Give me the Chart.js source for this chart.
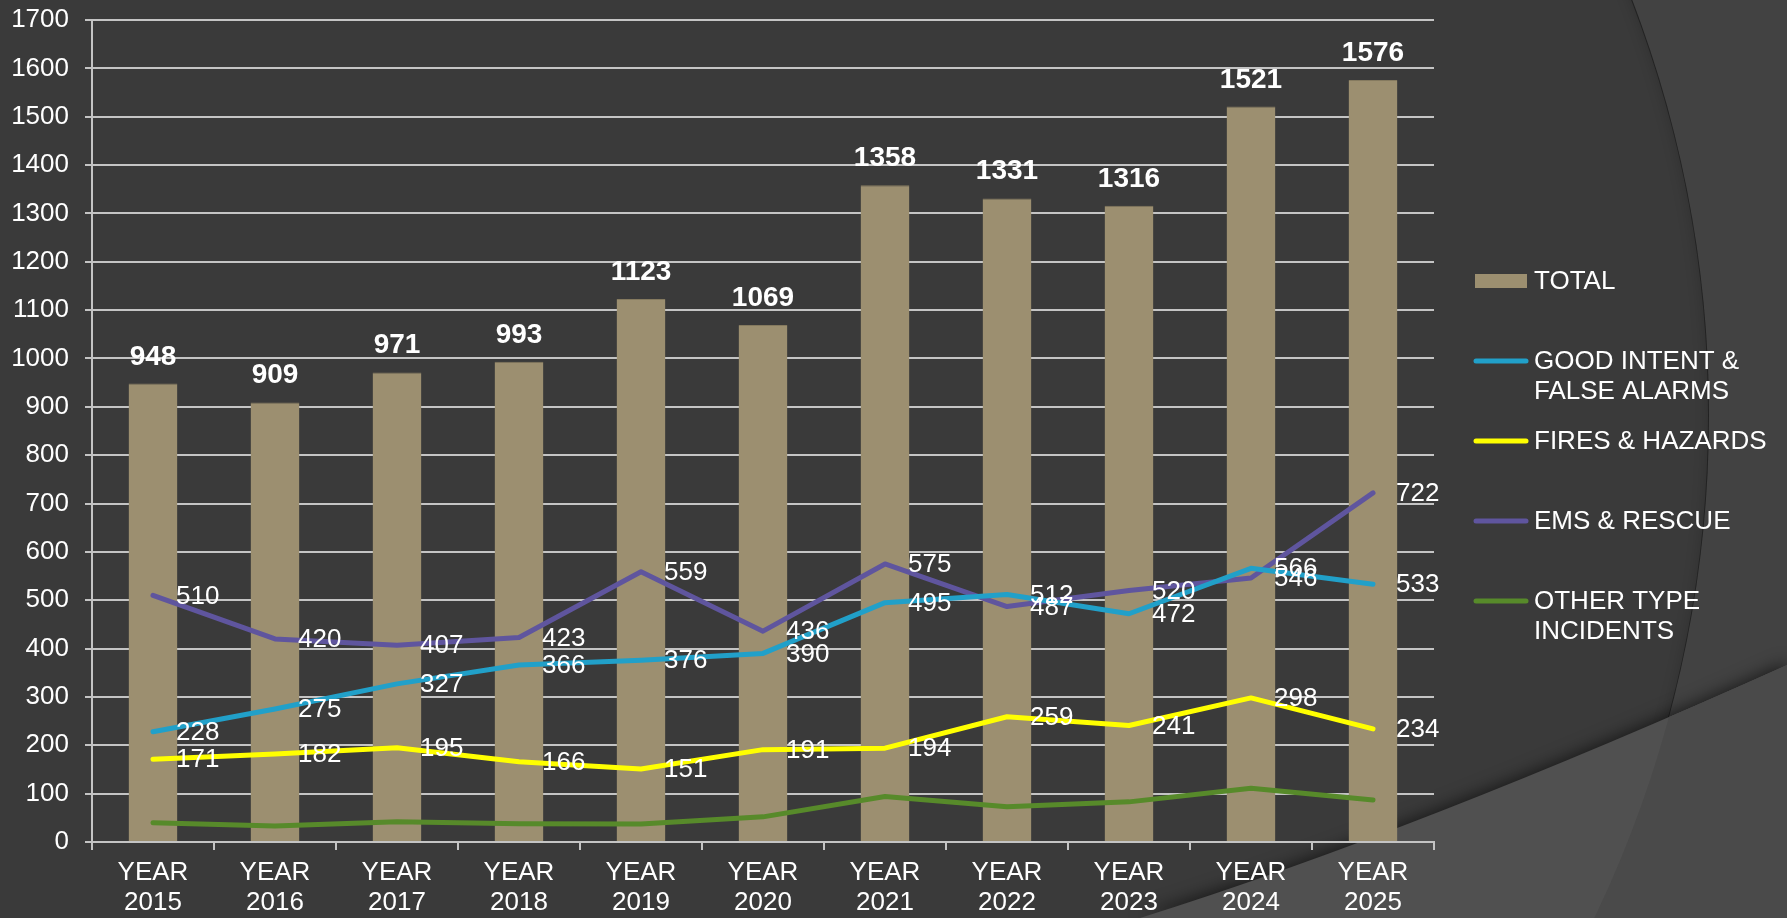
<!DOCTYPE html>
<html>
<head>
<meta charset="utf-8">
<script src="https://cdn.jsdelivr.net/npm/chart.js@4.4.0/dist/chart.umd.min.js"></script>
<style>
  html, body { margin: 0; padding: 0; background: #3a3a3a; overflow: hidden; }
  .wrapper { width: 1787px; height: 918px; }
</style>
</head>
<body>
<div class="wrapper"><canvas id="Chart" width="1787" height="918"></canvas></div>
<script>
// data
const years = ['2015', '2016', '2017', '2018', '2019', '2020', '2021', '2022', '2023', '2024', '2025'];
const total = [948, 909, 971, 993, 1123, 1069, 1358, 1331, 1316, 1521, 1576];
const goodIntent = [228, 275, 327, 366, 376, 390, 495, 512, 472, 566, 533];
const fires = [171, 182, 195, 166, 151, 191, 194, 259, 241, 298, 234];
const ems = [510, 420, 407, 423, 559, 436, 575, 487, 520, 546, 722];
const other = [40, 33, 42, 38, 37, 52, 94, 73, 83, 111, 87];
const yMax = 1700;
const yStep = 100;

const seriesNames = [['TOTAL'], ['GOOD INTENT &', 'FALSE ALARMS'], ['FIRES & HAZARDS'], ['EMS & RESCUE'], ['OTHER TYPE', 'INCIDENTS']];
const colors = ['#9c8f70', '#21a0c9', '#ffff00', '#5f559e', '#578a2a'];

const FONT = "'Liberation Sans', Arial, sans-serif";

const bgPlugin = {
  id: 'bg',
  beforeDraw(chart) {
    const ctx = chart.ctx;
    const w = chart.width, h = chart.height;
    ctx.save();
    ctx.fillStyle = '#424242';
    ctx.fillRect(0, 0, w, h);
    // big circle, darker inside
    ctx.beginPath();
    ctx.arc(549, 415, 1160, 0, Math.PI * 2);
    ctx.fillStyle = '#3a3a3a';
    ctx.fill();
    // shadow along the arc
    ctx.save();
    ctx.beginPath();
    ctx.arc(549, 415, 1160, 0, Math.PI * 2);
    ctx.clip();
    ctx.beginPath();
    ctx.arc(549, 415, 1166, 0, Math.PI * 2);
    ctx.strokeStyle = 'rgba(0,0,0,0.35)';
    ctx.lineWidth = 14;
    ctx.shadowColor = 'rgba(0,0,0,0.5)';
    ctx.shadowBlur = 14;
    ctx.stroke();
    ctx.restore();

    // lower-right lighter wedge
    const wedge = () => {
      ctx.beginPath();
      ctx.moveTo(1140, h);
      ctx.quadraticCurveTo(1420, 830, w, 665);
      ctx.lineTo(w, h);
      ctx.closePath();
    };
    ctx.save();
    ctx.shadowColor = 'rgba(0,0,0,0.55)';
    ctx.shadowBlur = 16;
    ctx.shadowOffsetY = -3;
    wedge();
    ctx.fillStyle = '#505050';
    ctx.fill();
    ctx.restore();
    ctx.save();
    wedge();
    ctx.clip();
    ctx.beginPath();
    ctx.rect(0, 0, w, h);
    ctx.arc(549, 415, 1160, 0, Math.PI * 2, true);
    ctx.fillStyle = '#4a4a4a';
    ctx.fill('evenodd');
    ctx.restore();
    ctx.restore();
  }
};

const labelPlugin = {
  id: 'valueLabels',
  afterDatasetsDraw(chart) {
    const ctx = chart.ctx;
    ctx.save();
    ctx.fillStyle = '#ffffff';
    chart.data.datasets.forEach((ds, i) => {
      if (!ds.showValues) return;
      const meta = chart.getDatasetMeta(i);
      meta.data.forEach((el, j) => {
        const v = ds.data[j];
        if (ds.type === 'bar') {
          ctx.font = 'bold 28px ' + FONT;
          ctx.textAlign = 'center';
          ctx.textBaseline = 'alphabetic';
          ctx.fillText(v, el.x, el.y - 19);
        } else {
          ctx.font = '26px ' + FONT;
          ctx.textAlign = 'left';
          ctx.textBaseline = 'middle';
          ctx.fillText(v, el.x + 23, el.y + 1);
        }
      });
    });
    ctx.restore();
  }
};

const legendPlugin = {
  id: 'sideLegend',
  afterDraw(chart) {
    const ctx = chart.ctx;
    ctx.save();
    ctx.font = '26px ' + FONT;
    ctx.textAlign = 'left';
    ctx.textBaseline = 'middle';
    seriesNames.forEach((lines, i) => {
      const y = 281 + i * 80;
      if (i === 0) {
        ctx.fillStyle = colors[0];
        ctx.fillRect(1475, y - 7, 52, 14);
      } else {
        ctx.strokeStyle = colors[i];
        ctx.lineWidth = 5;
        ctx.lineCap = 'round';
        ctx.beginPath();
        ctx.moveTo(1476, y);
        ctx.lineTo(1526, y);
        ctx.stroke();
      }
      ctx.fillStyle = '#ffffff';
      lines.forEach((t, k) => ctx.fillText(t, 1534, y + 1 + k * 29.5));
    });
    ctx.restore();
  }
};

const lineDs = (idx, data, showValues) => ({
  type: 'line',
  label: seriesNames[idx].join(' '),
  data: data,
  borderColor: colors[idx],
  backgroundColor: colors[idx],
  borderWidth: 5,
  borderCapStyle: 'round',
  borderJoinStyle: 'round',
  pointRadius: 0,
  tension: 0,
  fill: false,
  order: idx,
  showValues: showValues
});

const ctx = document.getElementById('Chart');
const myChart = new Chart(ctx, {
  data: {
    labels: years.map(y => ['YEAR', y]),
    datasets: [{
      type: 'bar',
      label: seriesNames[0].join(' '),
      data: total,
      backgroundColor: colors[0],
      borderColor: '#857a5f',
      borderWidth: { top: 1, left: 0, right: 0, bottom: 0 },
      barPercentage: 0.4,
      categoryPercentage: 1,
      order: 10,
      showValues: true
    },
      lineDs(1, goodIntent, true),
      lineDs(2, fires, true),
      lineDs(3, ems, true),
      lineDs(4, other, false)
    ]
  },
  options: {
    responsive: false,
    animation: false,
    layout: { padding: { top: 20, right: 353, left: 0, bottom: 0 } },
    plugins: {
      legend: { display: false },
      tooltip: { enabled: false }
    },
    scales: {
      x: {
        offset: true,
        afterFit: (s) => { s.height = 76; },
        grid: { offset: true, drawOnChartArea: false, drawTicks: true, tickLength: 8, color: '#c4c4c4', lineWidth: 2 },
        border: { color: '#c4c4c4', width: 2 },
        ticks: { color: '#ffffff', font: { family: FONT, size: 26, lineHeight: 1.15 }, padding: 8, maxRotation: 0, autoSkip: false }
      },
      y: {
        min: 0,
        max: yMax,
        afterFit: (s) => { s.width = 92; s.paddingTop = 0; s.paddingBottom = 0; },
        grid: { color: '#c4c4c4', lineWidth: 2, tickLength: 7 },
        border: { color: '#c4c4c4', width: 2 },
        ticks: { stepSize: yStep, color: '#ffffff', font: { family: FONT, size: 26 }, padding: 16, callback: (v) => String(v) }
      }
    }
  },
  plugins: [bgPlugin, labelPlugin, legendPlugin]
});
</script>
</body>
</html>
